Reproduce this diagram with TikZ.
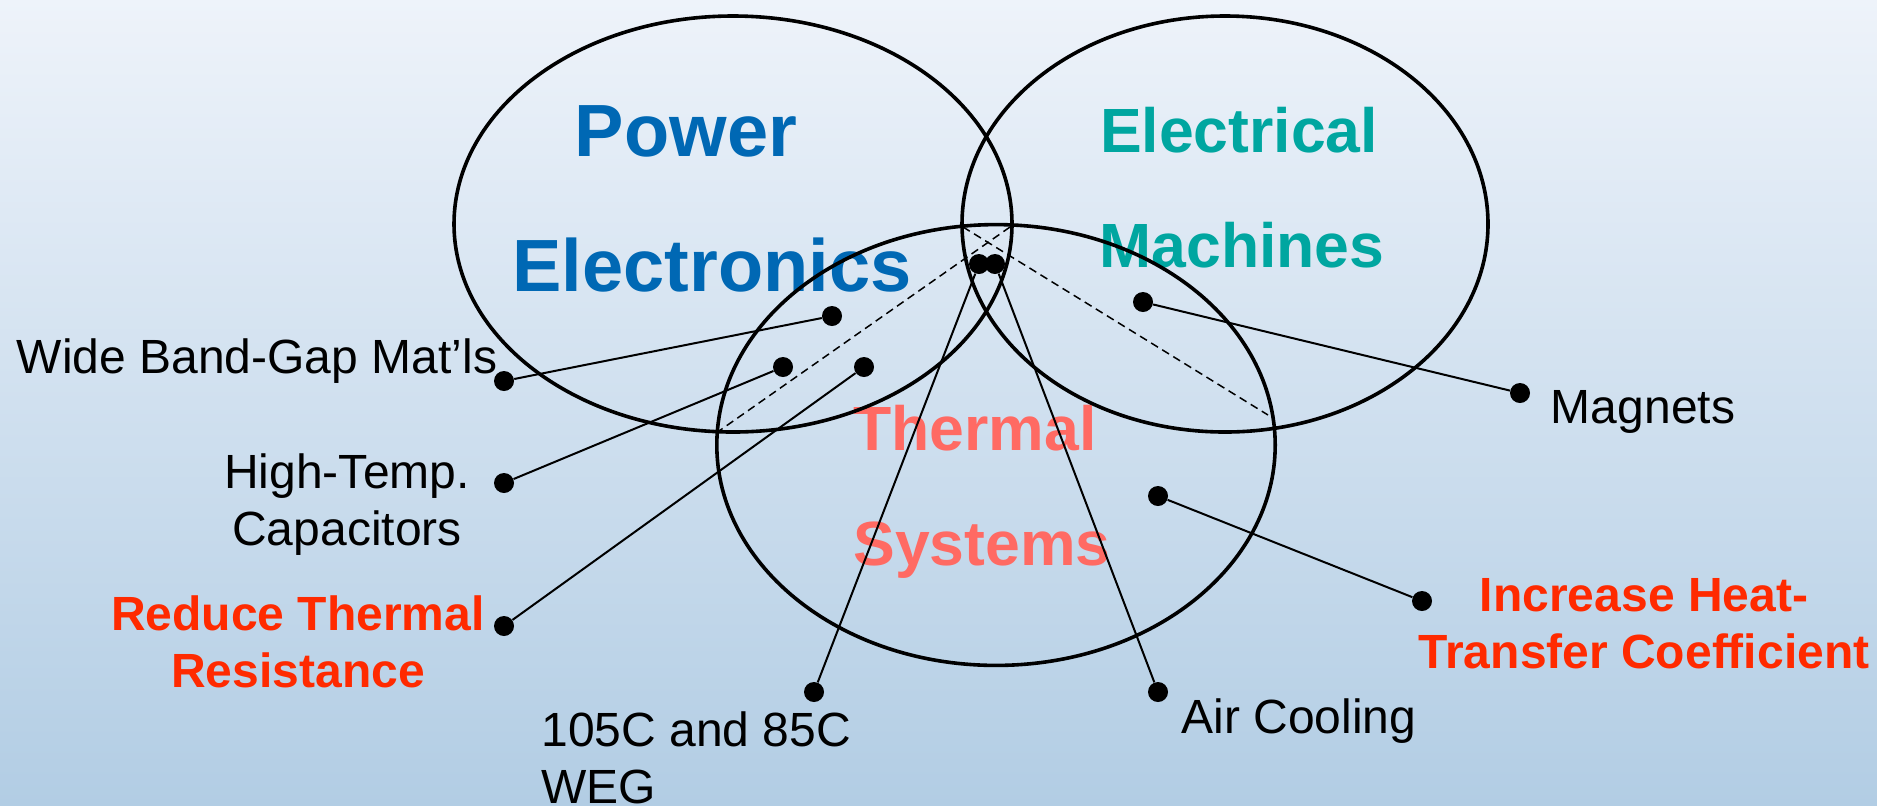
\documentclass[tikz,border=0pt]{standalone}
\usepackage{fontspec}
\setmainfont{Liberation Sans}
\definecolor{bgtop}{RGB}{238,243,250}
\definecolor{bgbot}{RGB}{178,205,228}
\definecolor{peblue}{RGB}{0,104,180}
\definecolor{emteal}{RGB}{0,166,160}
\definecolor{tssalmon}{RGB}{255,106,99}
\definecolor{goalred}{RGB}{255,42,0}
\begin{document}
\begin{tikzpicture}[x=0.5pt,y=-0.5pt,
  dot/.style={circle,fill=black,inner sep=0pt,minimum size=10pt},
  conn/.style={line width=1pt},
  guide/.style={line width=0.75pt,dash pattern=on 4pt off 2.5pt},
  ring/.style={line width=1.8pt},
  lab/.style={font=\fontsize{24}{28.5}\selectfont,inner sep=0pt,anchor=base,align=center},
  goal/.style={lab,font=\bfseries\fontsize{24}{28.5}\selectfont,text=goalred},
  bigtitle/.style={font=\bfseries\fontsize{37}{44}\selectfont,inner sep=0pt,anchor=base,text=peblue},
  midtitle/.style={font=\bfseries\fontsize{31.25}{40}\selectfont,inner sep=0pt,anchor=base}]
\useasboundingbox (0,0) rectangle (1877,805);
\shade[top color=bgtop,bottom color=bgbot] (0,0) rectangle (1877,805);

% titles
\node[bigtitle] (pe1) at (686,156) {Power};
\node[bigtitle] (pe2) at (712,291) {Electronics};
\node[midtitle,text=emteal] (em1) at (1239,152) {Electrical};
\node[midtitle,text=emteal] (em2) at (1242,267) {Machines};
\node[midtitle,text=tssalmon] (ts1) at (975,450) {Thermal};
\node[midtitle,text=tssalmon] (ts2) at (982,565) {Systems};

% labels (multi-line nodes are placed by the baseline of their last line)
\node[lab] (wbg) at (257,373) {Wide Band-Gap Mat’ls};
\node[lab] (htc) at (347,545) {High-Temp.\\Capacitors};
\node[goal] (rtr) at (298,687) {Reduce Thermal\\Resistance};
\node[lab,align=left,anchor=base west] (weg) at (541,803) {105C and 85C\\WEG};
\node[lab] (air) at (1299,733) {Air Cooling};
\node[lab] (mag) at (1643,423) {Magnets};
\node[goal] (htcf) at (1644,668) {Increase Heat-\\Transfer Coefficient};

% circles
\draw[ring] (733,224) ellipse [x radius=139.5pt, y radius=104pt];
\draw[ring] (1225,224) ellipse [x radius=131.5pt, y radius=104pt];
\draw[ring] (996,445) ellipse [x radius=139.6pt, y radius=110.2pt];

% dashed guides
\coordinate (gA) at (963,227);
\coordinate (gB) at (1268,415);
\coordinate (gC) at (1010,227);
\coordinate (gD) at (719,431);
\draw[guide] (gA) -- (gB);
\draw[guide] (gC) -- (gD);

% dots
\node[dot] (dwbgO) at (504,381) {};
\node[dot] (dwbgI) at (832,316) {};
\node[dot] (dhtO) at (504,483) {};
\node[dot] (dhtI) at (783,367) {};
\node[dot] (drtO) at (504,626) {};
\node[dot] (drtI) at (864,367) {};
\node[dot] (dtopL) at (979,264) {};
\node[dot] (dtopR) at (995,264) {};
\node[dot] (dweg) at (814,692) {};
\node[dot] (dair) at (1158,692) {};
\node[dot] (dmagI) at (1143,302) {};
\node[dot] (dmagO) at (1520,393) {};
\node[dot] (dhtcI) at (1158,496) {};
\node[dot] (dhtcO) at (1422,601) {};

% connectors
\draw[conn] (dwbgO) -- (dwbgI);
\draw[conn] (dhtO) -- (dhtI);
\draw[conn] (drtO) -- (drtI);
\draw[conn] (dweg) -- (dtopL);
\draw[conn] (dair) -- (dtopR);
\draw[conn] (dmagI) -- (dmagO);
\draw[conn] (dhtcI) -- (dhtcO);
\end{tikzpicture}
\end{document}
